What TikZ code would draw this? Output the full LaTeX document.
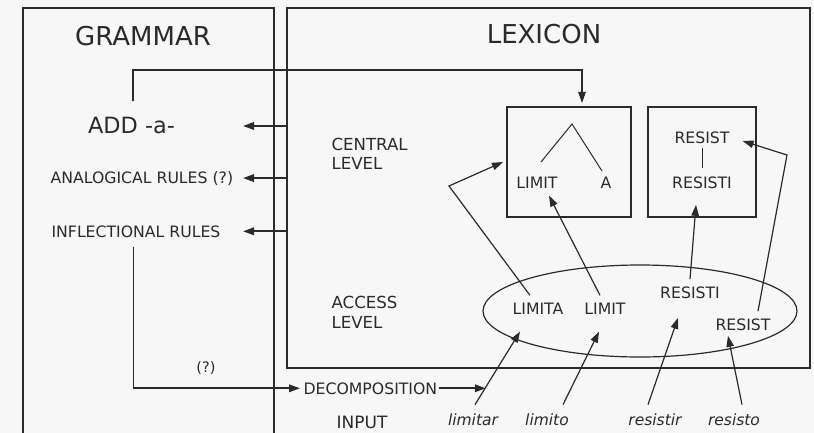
\documentclass[tikz,border=0pt]{standalone}
\usepackage{fontspec}
\setmainfont{DejaVu Sans}
\usetikzlibrary{arrows.meta,positioning,shapes.geometric}
\definecolor{paper}{HTML}{F7F7F7}
\definecolor{ink}{HTML}{2A2A2A}

\begin{document}
\begin{tikzpicture}[x=1pt, y=-1pt, color=ink, line width=1.2pt]
		\tikzstyle{txt} = [inner sep=0pt, font=\fontsize{15.7}{20}\selectfont]
		\tikzstyle{title} = [inner sep=0pt, font=\fontsize{26}{30}\selectfont]
		\tikzstyle{level} = [inner sep=0pt, font=\fontsize{16.6}{20}\selectfont, align=left, anchor=base west]
		\tikzstyle{word} = [inner sep=0pt, font=\fontsize{15.5}{18}\selectfont\itshape, anchor=base]
		\tikzstyle{store} = [rectangle, draw, inner sep=0pt, outer sep=0pt]
		\tikzstyle{arr} = [-{Triangle[length=11pt,width=7.5pt]}, line width=1.8pt]
		\tikzstyle{thin_arr} = [-{Triangle[length=11pt,width=7.5pt]}, line width=1.2pt]

		% Page
		\fill[paper] (0,0) rectangle (814,433);
		\useasboundingbox (0,0) rectangle (814,433);

		% Grammar side
		\draw (23,433) |- (274,8) -- (274,433);
		\node (grammar) [title, anchor=base] at (143,46) {GRAMMAR};
		\node (add) [txt, font=\fontsize{22.4}{26}\selectfont, anchor=base] at (131.5,134) {ADD -a-};
		\node (analog) [txt, anchor=base west] at (50,183) {ANALOGICAL RULES (?)};
		\node (infl) [txt, anchor=base west] at (51,237) {INFLECTIONAL RULES};

		% Lexicon
		\node (lex) [store, minimum width=523pt, minimum height=360pt] at (548.5,188) {};
		\node (lexicon) [title, anchor=base] at (544,44) {LEXICON};
		\node (central) [level] at (331,170) {CENTRAL\\LEVEL};
		\node (access) [level] at (331,328) {ACCESS\\LEVEL};

		% Central level entries
		\node (limbox) [store, minimum width=124pt, minimum height=110pt] at (569,162) {};
		\node (resbox) [store, minimum width=108pt, minimum height=110pt] at (702,162) {};
		\node (limit) [txt, anchor=base] at (537,189) {LIMIT};
		\node (a) [txt, anchor=base] at (606,189) {A};
		\node (resist) [txt, anchor=base] at (702,143) {RESIST};
		\node (resisti) [txt, anchor=base] at (702,189) {RESISTI};
		\coordinate (apex) at (572,124);
		\draw[line width=1pt] (541,162) -- (apex) -- (602,171);
		\draw[line width=1pt, shorten <=4pt, shorten >=9pt] (resist) -- (resisti);

		% Access level entries
		\node (accset) [ellipse, draw, minimum width=314pt, minimum height=92pt, inner sep=0pt] at (640,311) {};
		\node (limita) [txt, anchor=base] at (538,314) {LIMITA};
		\node (limit2) [txt, anchor=base] at (605,314) {LIMIT};
		\node (resisti2) [txt, anchor=base] at (690,298) {RESISTI};
		\node (resist2) [txt, anchor=base] at (743,330) {RESIST};

		% Input
		\node (input) [txt, font=\fontsize{17}{20}\selectfont, anchor=base] at (362,428) {INPUT};
		\node (decomp) [txt, anchor=base west] at (303,394) {DECOMPOSITION};
		\node (qmark) [txt, font=\fontsize{14.5}{18}\selectfont, anchor=base] at (206,372) {(?)};
		\node (limitar) [word] at (473,425) {limitar};
		\node (limito) [word] at (547,425) {limito};
		\node (resistir) [word] at (655,425) {resistir};
		\node (resisto) [word] at (734,425) {resisto};

		% Lexicon to grammar
		\coordinate (gtip) at (243,0);
		\foreach \n in {add,analog,infl}
		\draw[arr] (lex.west |- \n) -- (gtip |- \n);

		% Grammar to lexicon and decomposition
		\coordinate (addbend) at (582,70);
		\draw[thin_arr] ([xshift=1.5pt,yshift=16.5pt]add.north) |- (addbend) -- ([yshift=4pt]limbox.north -| addbend);
		\draw[arr] ([xshift=-2.5pt,yshift=-9pt]infl.south) |- ([xshift=-3pt]decomp.west);
		\draw[arr] ([xshift=1pt]decomp.east) -- ([xshift=48pt]decomp.east);

		% Access to central
		\coordinate (bendA) at (449,186);
		\coordinate (bendB) at (787,155);
		\draw[thin_arr] ([xshift=-8pt,yshift=6.6pt]limita.north) -- (bendA) -- ([xshift=-4pt]limbox.west);
		\draw[thin_arr] ([xshift=-5pt,yshift=6.6pt]limit2.north) -- ([xshift=12pt,yshift=-6pt]limit.south);
		\draw[thin_arr] ([yshift=6.6pt]resisti2.north) -- ([xshift=-6pt,yshift=-15pt]resisti.south);
		\draw[thin_arr] ([xshift=15pt,yshift=6.6pt]resist2.north) -- (bendB) -- ([xshift=12.5pt,yshift=-3.7pt]resist.east);

		% Input to access
		\draw[thin_arr] ([xshift=2pt,yshift=8pt]limitar.north) -- ([xshift=-18pt,yshift=-17pt]limita.south);
		\draw[thin_arr] ([xshift=16pt,yshift=8pt]limito.north) -- ([xshift=-6pt,yshift=-17pt]limit2.south);
		\draw[thin_arr] ([xshift=-7pt,yshift=8pt]resistir.north) -- ([xshift=-12pt,yshift=-19pt]resisti2.south);
		\draw[thin_arr] ([xshift=8pt,yshift=8pt]resisto.north) -- ([xshift=-15pt,yshift=-5pt]resist2.south);
	\end{tikzpicture}
\end{document}
